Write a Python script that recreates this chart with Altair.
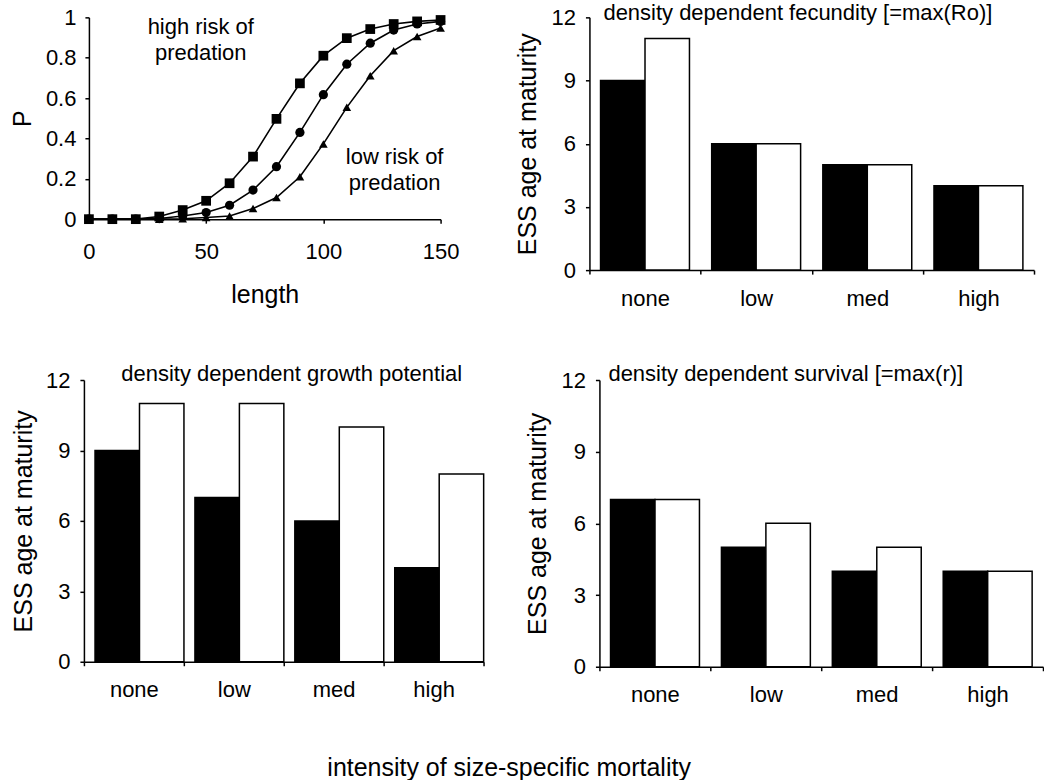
import altair as alt
import pandas as pd

# ---------------- data ----------------
lengths = [0, 10, 20, 30, 40, 50, 60, 70, 80, 90, 100, 110, 120, 130, 140, 150]
p_high = [0, 0, 0, 0.013, 0.045, 0.091, 0.178, 0.31, 0.497, 0.673, 0.81, 0.897, 0.942, 0.967, 0.98, 0.987]
p_mid = [0, 0, 0, 0.003, 0.016, 0.033, 0.069, 0.144, 0.26, 0.43, 0.617, 0.768, 0.872, 0.937, 0.967, 0.98]
p_low = [0, 0, 0, 0, 0.002, 0.008, 0.016, 0.053, 0.107, 0.21, 0.373, 0.554, 0.711, 0.835, 0.905, 0.947]

categories = ["none", "low", "med", "high"]
fec_black = [9, 6, 5, 4]
fec_white = [11, 6, 5, 4]
gro_black = [9, 7, 6, 4]
gro_white = [11, 11, 10, 8]
sur_black = [7, 5, 4, 4]
sur_white = [7, 6, 5, 4]

y_ticks_p = [0, 0.2, 0.4, 0.6, 0.8, 1]
x_ticks_len = [0, 50, 100, 150]
y_ticks_ess = [0, 3, 6, 9, 12]

FONT = "Liberation Sans"
LBL = 22
TTL = 25

# ---------------- top-left line chart ----------------
rows = []
for name, vals in [("high", p_high), ("mid", p_mid), ("low", p_low)]:
    for L, p in zip(lengths, vals):
        rows.append({"length": L, "P": p, "series": name})
df_line = pd.DataFrame(rows)

TL_W = 357
TL_SHIFT = 5
xL = alt.X("length:Q", scale=alt.Scale(domain=[0, 150], nice=False, range=[TL_SHIFT, TL_W]),
           axis=alt.Axis(values=x_ticks_len, title="length", labelFlush=False,
                         labelPadding=18, titlePadding=20))
yL = alt.Y("P:Q", scale=alt.Scale(domain=[0, 1], nice=False),
           axis=alt.Axis(values=y_ticks_p, format="~g", title="P", offset=-TL_SHIFT,
                         labelPadding=9, titlePadding=10))

lines = alt.Chart(df_line).mark_line(color="black", strokeWidth=1.6).encode(
    x=xL, y=yL, detail="series:N")
points = alt.Chart(df_line).mark_point(filled=True, color="black", opacity=1).encode(
    x="length:Q", y="P:Q",
    shape=alt.Shape("series:N", scale=alt.Scale(domain=["high", "mid", "low"],
                                                 range=["square", "circle", "triangle-up"]), legend=None),
    size=alt.Size("series:N", scale=alt.Scale(domain=["high", "mid", "low"], range=[95, 75, 80]), legend=None))

ann = pd.DataFrame({"x": [47.7, 130.4], "y": [0.95, 0.307],
                    "t": ["high risk of\npredation", "low risk of\npredation"]})
ann_text = alt.Chart(ann).mark_text(font=FONT, fontSize=22, align="center", baseline="middle",
                                    lineBreak="\n", lineHeight=26, color="black").encode(
    x="x:Q", y="y:Q", text="t:N")

top_left = alt.layer(lines, points, ann_text).properties(width=TL_W, height=202)


# ---------------- bar panels ----------------
def bar_panel(black, white, title, w, h, tx, talign, tdy, tpad):
    r = []
    for c, b, wv in zip(categories, black, white):
        r.append({"cat": c, "series": "a", "value": b})
        r.append({"cat": c, "series": "b", "value": wv})
    d = pd.DataFrame(r)
    bars = alt.Chart(d).mark_bar(stroke="black", strokeWidth=1.5).encode(
        x=alt.X("cat:N", sort=categories, scale=alt.Scale(paddingInner=0, paddingOuter=0),
                axis=alt.Axis(title=None, labelAngle=0, tickBand="extent", labelPadding=14)),
        xOffset=alt.XOffset("series:N", sort=["a", "b"],
                            scale=alt.Scale(paddingInner=0, paddingOuter=0.25)),
        y=alt.Y("value:Q", scale=alt.Scale(domain=[0, 12], nice=False),
                axis=alt.Axis(values=y_ticks_ess, title="ESS age at maturity",
                              labelPadding=10, titlePadding=tpad)),
        fill=alt.Fill("series:N", scale=alt.Scale(domain=["a", "b"], range=["black", "white"]),
                      legend=None))
    t = alt.Chart(pd.DataFrame({"t": [title]})).mark_text(
        font=FONT, fontSize=22, align=talign, baseline="middle", dy=tdy, color="black").encode(
        x=alt.value(tx), y=alt.datum(12), text="t:N")
    return alt.layer(bars, t).properties(width=w, height=h)


top_right = bar_panel(fec_black, fec_white, "density dependent fecundity [=max(Ro)]",
                      445, 253, 14, "left", -4, 11)
bot_left = bar_panel(gro_black, gro_white, "density dependent growth potential",
                     400, 282, 208, "center", -6, 9)
bot_right = bar_panel(sur_black, sur_white, "density dependent survival [=max(r)]",
                      444, 287, 9, "left", -6, 11)

top_row = alt.hconcat(top_left, top_right, spacing=55)
bot_row = alt.hconcat(bot_left, bot_right, spacing=40)

chart = alt.vconcat(top_row, bot_row, spacing=54).properties(
    title=alt.TitleParams("intensity of size-specific mortality", orient="bottom",
                          anchor="middle", offset=50, dx=-18, fontSize=25,
                          font=FONT, fontWeight="normal", color="black"),
    padding={"left": 10, "top": 2, "right": 0, "bottom": 0},
).configure_view(stroke=None).configure_axis(
    domainColor="black", tickColor="black", domainWidth=1.5, tickWidth=1.5, tickSize=4,
    labelFont=FONT, titleFont=FONT, labelFontSize=LBL, titleFontSize=TTL,
    titleFontWeight="normal", labelColor="black", titleColor="black", grid=False,
)

chart.save("out.html", embed_options={"renderer": "svg", "actions": False})
